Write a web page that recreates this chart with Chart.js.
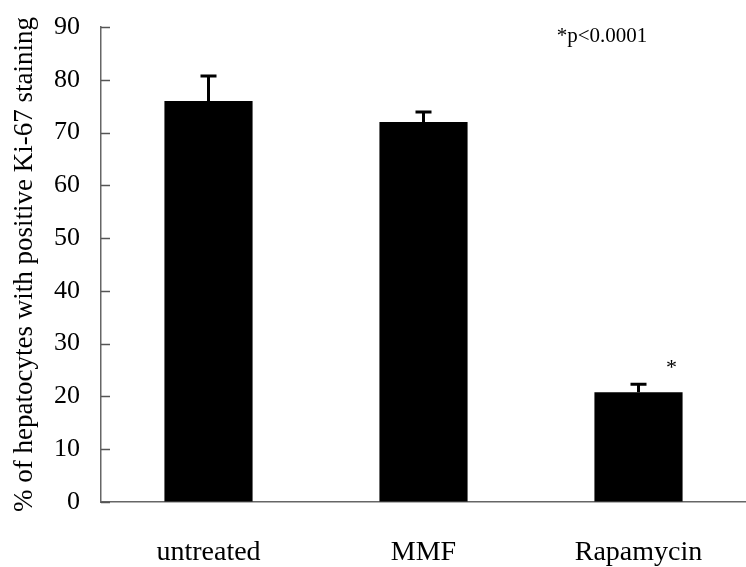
<!DOCTYPE html>
<html lang="en">
<head>
    <meta charset="UTF-8">
    <title>Ki-67 staining</title>
    <script src="https://cdn.jsdelivr.net/npm/chart.js"></script>
    <style>
        html, body { margin: 0; padding: 0; background: #fff; }
        #wrap { width: 746px; height: 567px; }
    </style>
</head>
<body>
    <div id="wrap"><canvas id="chart"></canvas></div>

    <script>
        // values
        const groups = ['untreated', 'MMF', 'Rapamycin'];
        const means = [76.0, 72.0, 20.8];
        const errors = [4.7, 1.9, 1.5];
        const marks = ['', '', '*'];
        const yTicks = [0, 10, 20, 30, 40, 50, 60, 70, 80, 90];
        const note = '*p<0.0001';

        const serif = '"Liberation Serif", "Times New Roman", serif';

        // error bars, inward ticks, significance marks
        const extras = {
            id: 'extras',
            afterDatasetsDraw(chart) {
                const ctx = chart.ctx;
                const x = chart.scales.x;
                const y = chart.scales.y;
                const area = chart.chartArea;
                ctx.save();

                // inward y ticks
                ctx.strokeStyle = '#555';
                ctx.lineWidth = 1.5;
                yTicks.forEach(t => {
                    const py = Math.round(y.getPixelForValue(t)) + 0.5;
                    ctx.beginPath();
                    ctx.moveTo(area.left, py);
                    ctx.lineTo(area.left + 9, py);
                    ctx.stroke();
                });

                // error bars (upper only)
                ctx.strokeStyle = '#000';
                ctx.lineWidth = 3;
                means.forEach((m, i) => {
                    const px = x.getPixelForValue(i);
                    const top = y.getPixelForValue(m + errors[i]);
                    ctx.beginPath();
                    ctx.moveTo(px, y.getPixelForValue(m));
                    ctx.lineTo(px, top);
                    ctx.moveTo(px - 8, top);
                    ctx.lineTo(px + 8, top);
                    ctx.stroke();
                });

                // asterisks
                ctx.fillStyle = '#000';
                ctx.font = '22px ' + serif;
                ctx.textAlign = 'center';
                ctx.textBaseline = 'middle';
                marks.forEach((s, i) => {
                    if (!s) return;
                    const px = x.getPixelForValue(i) + 33;
                    const py = y.getPixelForValue(means[i] + errors[i]) - 16;
                    ctx.fillText(s, px, py);
                });

                // p value note
                ctx.font = '21px ' + serif;
                ctx.fillText(note, 602, 36);
                ctx.restore();
            }
        };

        new Chart(document.getElementById('chart'), {
            type: 'bar',
            data: {
                labels: groups,
                datasets: [{
                    data: means,
                    backgroundColor: '#000',
                    borderWidth: 0,
                    categoryPercentage: 1.0,
                    barPercentage: 0.41
                }]
            },
            options: {
                responsive: true,
                maintainAspectRatio: false,
                animation: false,
                layout: { padding: { top: 27, right: 0, left: 0, bottom: 0 } },
                plugins: {
                    legend: { display: false },
                    tooltip: { enabled: false }
                },
                scales: {
                    x: {
                        grid: { display: false },
                        border: { color: '#666', width: 1.5 },
                        ticks: {
                            color: '#000',
                            font: { family: serif, size: 28 },
                            padding: 26
                        },
                        afterFit(s) { s.height = 65; }
                    },
                    y: {
                        min: 0,
                        max: 90,
                        // invisible grid only to push tick labels left
                        grid: {
                            color: 'rgba(0,0,0,0)',
                            drawOnChartArea: false,
                            tickLength: 21
                        },
                        border: { color: '#666', width: 1.5 },
                        ticks: {
                            stepSize: 10,
                            color: '#000',
                            font: { family: serif, size: 26 },
                            padding: 0
                        },
                        title: {
                            display: true,
                            text: '% of hepatocytes with positive Ki-67 staining',
                            color: '#000',
                            font: { family: serif, size: 27 },
                            padding: { top: 9, bottom: 0 }
                        },
                        afterFit(s) { s.width = 101; }
                    }
                }
            },
            plugins: [extras]
        });
    </script>
</body>
</html>
